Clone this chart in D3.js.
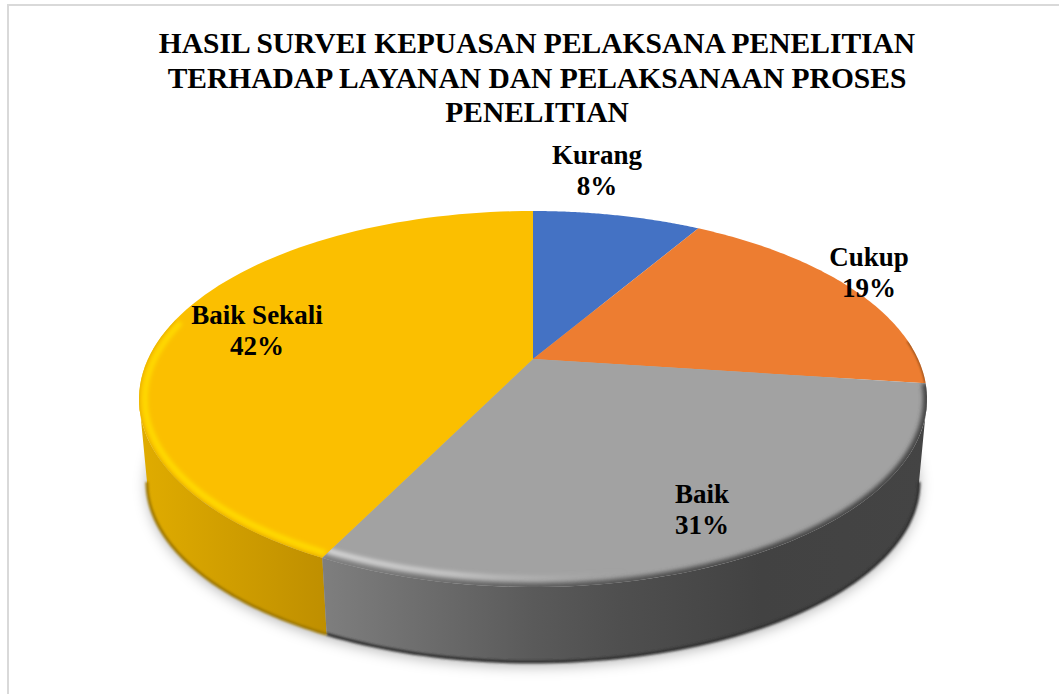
<!DOCTYPE html>
<html>
<head>
<meta charset="utf-8">
<script src="https://cdn.jsdelivr.net/npm/d3@7"></script>
<style>
  html, body { margin: 0; padding: 0; background: #fff; }
  svg { display: block; }
  text { font-family: "Liberation Serif", serif; font-weight: bold; fill: #000; }
</style>
</head>
<body>
<svg id="chart" width="1059" height="694"></svg>
<script>
const categories = ['Kurang', 'Cukup', 'Baik', 'Baik Sekali'];
const values = [8.49, 18.61, 30.2, 42.7];
const percentLabels = ['8%', '19%', '31%', '42%'];
const colors = ['#4472C4', '#ED7D31', '#A2A2A2', '#FBBF00'];
const titleLines = [
  'HASIL SURVEI KEPUASAN PELAKSANA PENELITIAN',
  'TERHADAP LAYANAN DAN PELAKSANAAN PROSES',
  'PENELITIAN'
];

const width = 1059, height = 694;
const svg = d3.select('#chart');

// perspective: unit circle -> ellipse, with the pie centre pulled away from the ellipse centre
const tilt = -0.213;
const topX = d3.scaleLinear().domain([-1, 1]).range([139, 927]);
const topY = d3.scaleLinear().domain([-1, 1]).range([211, 587]);
const botX = d3.scaleLinear().domain([-1, 1]).range([147, 919]);
const botY = d3.scaleLinear().domain([-1, 1]).range([302, 662]);
const apex = [topX(0), topY(tilt)];

function project(angle) {
  const u = Math.sin(angle), v = -Math.cos(angle);
  const w = 1 + tilt * v;
  return [u * Math.sqrt(1 - tilt * tilt) / w, (v + tilt) / w];
}
const topPt = a => { const p = project(a); return [topX(p[0]), topY(p[1])]; };
const botPt = a => { const p = project(a); return [botX(p[0]), botY(p[1])]; };
// point on the top rim, moved inward by a fixed number of pixels
const insetPt = (a, px) => {
  const p = project(a);
  const xs = topX.copy().range([139 + px, 927 - px]);
  const ys = topY.copy().range([211 + px, 587 - px]);
  return [xs(p[0]), ys(p[1])];
};

// only this part of the rim faces the viewer
const frontStart = Math.PI - Math.acos(-tilt);
const frontEnd = Math.PI + Math.acos(-tilt);

const arcs = d3.pie().value(d => d).sort(null)(values);
const line = d3.line();
const samples = (a0, a1) => d3.range(0, 81).map(i => a0 + (a1 - a0) * i / 80);
const frontSamples = d => samples(Math.max(d.startAngle, frontStart), Math.min(d.endAngle, frontEnd));

const defs = svg.append('defs');
function blur(id, std) {
  defs.append('filter').attr('id', id)
    .attr('filterUnits', 'userSpaceOnUse')
    .attr('x', 0).attr('y', 0).attr('width', width).attr('height', height)
    .append('feGaussianBlur').attr('stdDeviation', std);
}
blur('shadow', 7);
blur('soft', 2);
blur('softer', 1.2);

function sideGradient(id, stops) {
  const g = defs.append('linearGradient').attr('id', id)
    .attr('gradientUnits', 'userSpaceOnUse')
    .attr('x1', 139).attr('x2', 927).attr('y1', 0).attr('y2', 0);
  stops.forEach(s => g.append('stop').attr('offset', s[0])
    .attr('stop-color', s[1]).attr('stop-opacity', s[2] === undefined ? 1 : s[2]));
}
sideGradient('wall3', [[0, '#E0AC00'], [0.236, '#BF8F00'], [1, '#BF8F00']]);
sideGradient('wall2', [[0, '#909090'], [0.236, '#7E7E7E'], [0.5, '#5A5A5A'], [0.61, '#4F4F4F'], [0.79, '#424242'], [1, '#444444']]);
sideGradient('edge2', [[0, '#8A8A8A'], [0.236, '#808080'], [0.5, '#5E5E5E'], [0.75, '#484848'], [1, '#444444']]);
sideGradient('glow2', [[0.236, '#E4E4E4', 1], [0.4, '#D4D4D4', 0.9], [0.53, '#C0C0C0', 0.35], [0.62, '#A2A2A2', 0]]);

// frame
svg.append('path')
  .attr('d', line([[8, height], [8, 5], [width, 5]]))
  .attr('fill', 'none').attr('stroke', '#D9D9D9').attr('stroke-width', 2);

// soft shadow under the body
svg.append('path')
  .attr('d', line(samples(0, 2 * Math.PI).map(botPt)) + 'Z')
  .attr('transform', 'translate(0,4)')
  .attr('fill', '#000').attr('fill-opacity', 0.3)
  .attr('filter', 'url(#shadow)');

// side walls of the slices that reach the front
const wallFill = { 2: 'url(#wall2)', 3: 'url(#wall3)' };
[3, 2].forEach(i => {
  const a = frontSamples(arcs[i]);
  const wall = line(a.map(topPt).concat(a.slice().reverse().map(botPt))) + 'Z';
  svg.append('path').attr('d', wall).attr('fill', wallFill[i]);
  defs.append('clipPath').attr('id', `wall${i}`).append('path').attr('d', wall);
});

// darker lower edge of the walls
[[2, '#333333'], [3, '#A27A00']].forEach(e => {
  svg.append('g').attr('clip-path', `url(#wall${e[0]})`)
    .append('path')
    .attr('d', line(frontSamples(arcs[e[0]]).map(botPt)))
    .attr('fill', 'none').attr('stroke', e[1])
    .attr('stroke-width', 3).attr('filter', 'url(#softer)');
});

// top face
arcs.forEach((d, i) => {
  const outline = [apex].concat(samples(d.startAngle, d.endAngle).map(topPt));
  defs.append('clipPath').attr('id', `slice${i}`)
    .append('path').attr('d', line(outline) + 'Z');
  svg.append('path').attr('d', line(outline) + 'Z').attr('fill', colors[i]);
});

// bevel on the front rim of the top face
const bevel = [
  { slice: 1, from: 0.8, to: 1, color: '#8A4A18', w: 2, inset: 0, blur: 'softer' },
  { slice: 2, from: 0, to: 1, color: 'url(#edge2)', w: 8, inset: 0, blur: 'soft' },
  { slice: 2, from: 0, to: 1, color: 'url(#glow2)', w: 4, inset: 9, blur: 'soft' },
  { slice: 3, from: 0, to: 0.5, color: '#E8B400', w: 3, inset: 0, blur: 'softer' },
  { slice: 3, from: 0, to: 0.5, color: '#FFDD00', w: 5, inset: 6, blur: 'soft' }
];
bevel.forEach(b => {
  const d = arcs[b.slice];
  const span = d.endAngle - d.startAngle;
  svg.append('g').attr('clip-path', `url(#slice${b.slice})`)
    .append('path')
    .attr('d', line(samples(d.startAngle + span * b.from, d.startAngle + span * b.to).map(t => insetPt(t, b.inset))))
    .attr('fill', 'none').attr('stroke', b.color)
    .attr('stroke-width', b.w).attr('filter', `url(#${b.blur})`);
});

// title
svg.append('g').selectAll('text').data(titleLines).join('text')
  .attr('x', 537)
  .attr('y', (d, i) => [53, 88, 122][i])
  .attr('text-anchor', 'middle')
  .attr('font-size', 29.5)
  .text(d => d);

// data labels
const labelPos = [[597, 164], [869, 266], [702, 503], [257, 324]];
const labels = svg.append('g').selectAll('text').data(categories).join('text')
  .attr('text-anchor', 'middle')
  .attr('font-size', 27);
labels.append('tspan')
  .attr('x', (d, i) => labelPos[i][0]).attr('y', (d, i) => labelPos[i][1])
  .text(d => d);
labels.append('tspan')
  .attr('x', (d, i) => labelPos[i][0]).attr('y', (d, i) => labelPos[i][1] + 31)
  .text((d, i) => percentLabels[i]);
</script>
</body>
</html>
